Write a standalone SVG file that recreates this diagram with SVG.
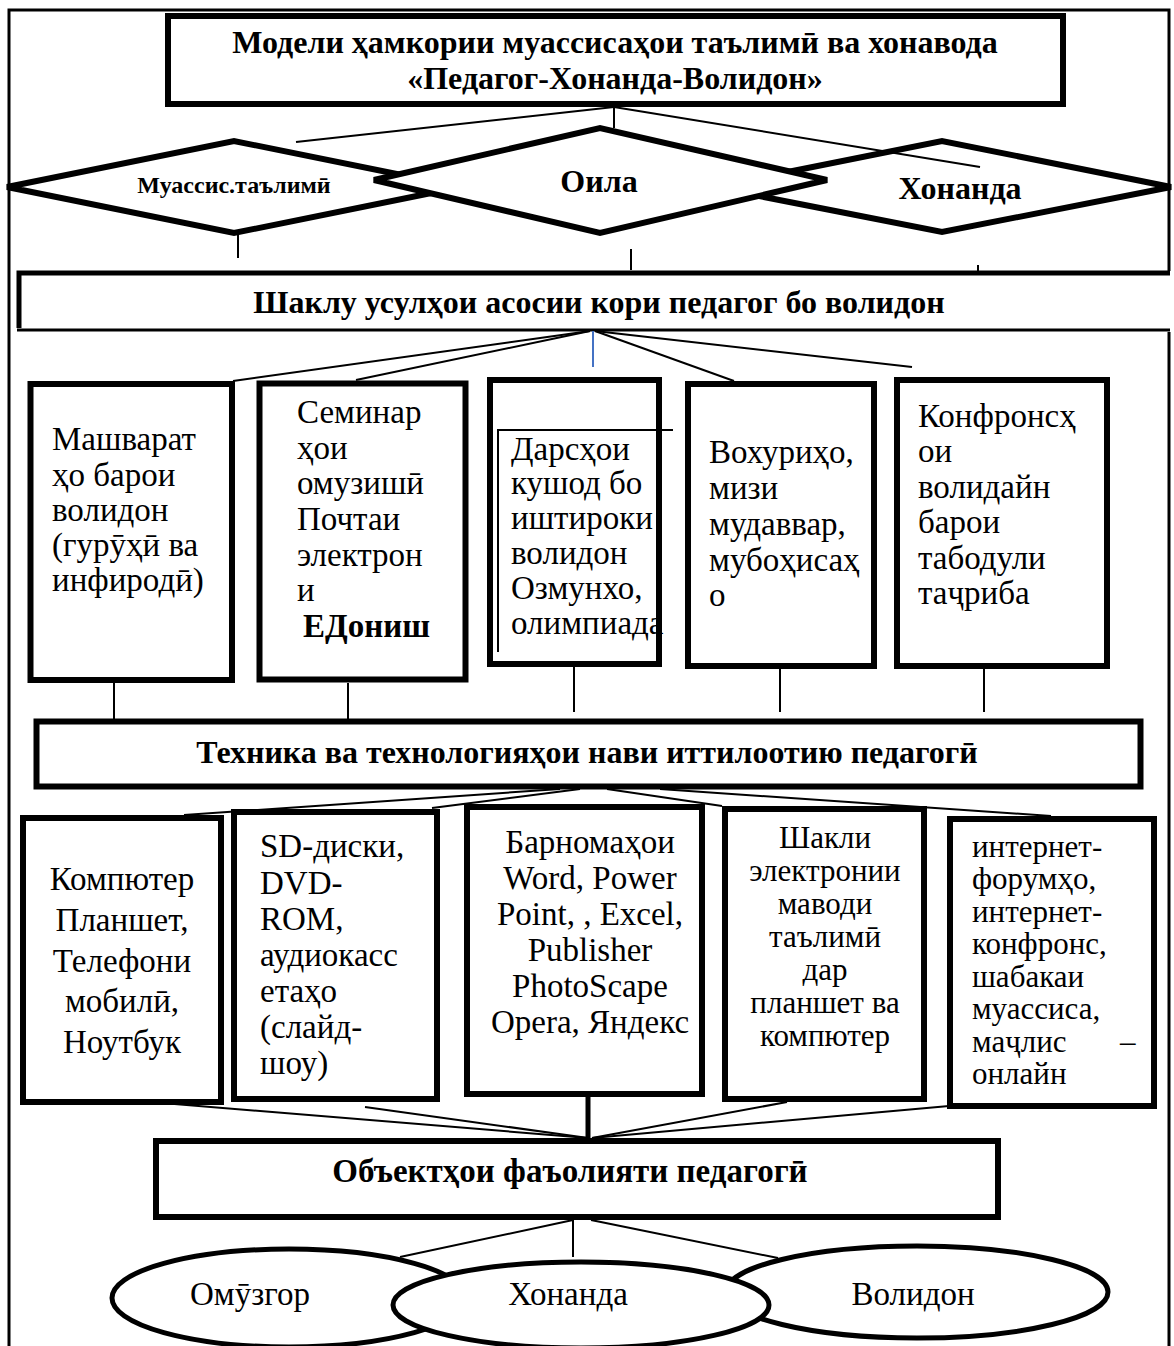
<svg xmlns="http://www.w3.org/2000/svg" width="1174" height="1346" viewBox="0 0 1174 1346">
<style>
  .frame{fill:none;stroke:#000;stroke-width:3}
  .box{fill:#fff;stroke:#000;stroke-width:6}
  .dia{fill:#fff;stroke:#000;stroke-width:6;stroke-linejoin:miter}
  .ell{fill:#fff;stroke:#000;stroke-width:5}
  .ln{fill:none;stroke:#000;stroke-width:2}
  .hb{font-family:"Liberation Serif","Times New Roman",serif;font-weight:bold;font-size:32px;fill:#000}
  .t{font-family:"Liberation Serif","Times New Roman",serif;font-size:33px;fill:#000}
  .ts{font-family:"Liberation Serif","Times New Roman",serif;font-size:31px;fill:#000}
  .c{text-anchor:middle}
</style>
<rect x="0" y="0" width="1174" height="1346" fill="#fff"/>
<path class="frame" d="M9,1346 V10 H1169 V1346"/>

<g id="title">
  <rect class="box" x="168" y="16" width="895" height="88" stroke-width="5"/>
  <text class="hb c" x="615" y="53">Модели ҳамкории муассисаҳои таълимӣ ва хонавода</text>
  <text class="hb c" x="615" y="89">«Педагог-Хонанда-Волидон»</text>
</g>

<g id="diamond-muassis">
  <polygon class="dia" points="7,187 234,141 461,187 234,233"/>
  <text class="hb c" x="234" y="193" style="font-size:24px">Муассис.таълимӣ</text>
</g>
<g id="diamond-khonanda">
  <polygon class="dia" points="713,187 942,141 1171,187 942,232"/>
  <text class="hb c" x="960" y="199">Хонанда</text>
</g>
<g id="diamond-oila">
  <polygon class="dia" points="374,180 600,128 827,180 600,233"/>
  <text class="hb c" x="599" y="192">Оила</text>
</g>

<g id="forms">
  <rect x="17" y="271" width="1154" height="61" fill="#fff"/>
  <path d="M17,330 H1170" stroke="#000" stroke-width="3" fill="none"/>
  <path d="M19,328 V273 H1170" stroke="#000" stroke-width="5" fill="none"/>
  <text class="hb c" x="599" y="313">Шаклу усулҳои асосии кори педагог бо волидон</text>
</g>

<g id="box-mashvarat">
  <rect class="box" x="30.5" y="384" width="201.5" height="296"/>
  <text class="t" x="52" y="450">Машварат</text>
  <text class="t" x="52" y="486">ҳо барои</text>
  <text class="t" x="52" y="521">волидон</text>
  <text class="t" x="52" y="556">(гурӯҳӣ ва</text>
  <text class="t" x="52" y="591">инфиродӣ)</text>
</g>
<g id="box-seminar">
  <rect class="box" x="259.5" y="383.5" width="206" height="296" stroke-width="7"/>
  <text class="t" x="297" y="423">Семинар</text>
  <text class="t" x="297" y="459">ҳои</text>
  <text class="t" x="297" y="494">омузишӣ</text>
  <text class="t" x="297" y="530">Почтаи</text>
  <text class="t" x="297" y="566">электрон</text>
  <text class="t" x="297" y="601">и</text>
  <text class="t" x="303" y="637" font-weight="bold">ЕДониш</text>
</g>
<g id="box-dars">
  <rect class="box" x="490" y="380" width="169" height="284"/>
  <path d="M498,652 V430 H673" fill="none" stroke="#000" stroke-width="2"/>
  <text class="t" x="511" y="460">Дарсҳои</text>
  <text class="t" x="511" y="494">кушод бо</text>
  <text class="t" x="511" y="529">иштироки</text>
  <text class="t" x="511" y="564">волидон</text>
  <text class="t" x="511" y="599">Озмунхо,</text>
  <text class="t" x="511" y="634">олимпиада</text>
</g>
<g id="box-vokhuri">
  <rect class="box" x="688" y="384" width="186" height="282"/>
  <text class="t" x="709" y="463">Вохуриҳо,</text>
  <text class="t" x="709" y="499">мизи</text>
  <text class="t" x="709" y="535">мудаввар,</text>
  <text class="t" x="709" y="571">мубоҳисаҳ</text>
  <text class="t" x="709" y="606">о</text>
</g>
<g id="box-konfrons">
  <rect class="box" x="897" y="380" width="210" height="286"/>
  <text class="t" x="918" y="427">Конфронсҳ</text>
  <text class="t" x="918" y="462">ои</text>
  <text class="t" x="918" y="498">волидайн</text>
  <text class="t" x="918" y="533">барои</text>
  <text class="t" x="918" y="569">табодули</text>
  <text class="t" x="918" y="604">таҷриба</text>
</g>

<g id="technika">
  <rect class="box" x="36.5" y="721.5" width="1104" height="65" stroke-width="5"/>
  <text class="hb c" x="587" y="763">Техника ва технологияҳои нави иттилоотию педагогӣ</text>
</g>

<g id="box-kompyuter">
  <rect class="box" x="23" y="818" width="198" height="284"/>
  <text class="t c" x="122" y="890">Компютер</text>
  <text class="t c" x="122" y="931">Планшет,</text>
  <text class="t c" x="122" y="972">Телефони</text>
  <text class="t c" x="122" y="1012">мобилӣ,</text>
  <text class="t c" x="122" y="1053">Ноутбук</text>
</g>
<g id="box-sd">
  <rect class="box" x="234" y="812" width="203" height="287" stroke-width="8"/>
  <text class="t" x="260" y="857">SD-диски,</text>
  <text class="t" x="260" y="894">DVD-</text>
  <text class="t" x="260" y="930">ROM,</text>
  <text class="t" x="260" y="966">аудиокасс</text>
  <text class="t" x="260" y="1002">етаҳо</text>
  <text class="t" x="260" y="1038">(слайд-</text>
  <text class="t" x="260" y="1074">шоу)</text>
</g>
<g id="box-barnoma">
  <rect class="box" x="467" y="807" width="235" height="287"/>
  <text class="t c" x="590" y="853">Барномаҳои</text>
  <text class="t c" x="590" y="889">Word, Power</text>
  <text class="t c" x="590" y="925">Point, , Excel,</text>
  <text class="t c" x="590" y="961">Publisher</text>
  <text class="t c" x="590" y="997">PhotoScape</text>
  <text class="t c" x="590" y="1033">Opera, Яндекс</text>
</g>
<g id="box-shakli">
  <rect class="box" x="725" y="809" width="199" height="290" stroke-width="8"/>
  <text class="ts c" x="825" y="848">Шакли</text>
  <text class="ts c" x="825" y="881">электронии</text>
  <text class="ts c" x="825" y="914">маводи</text>
  <text class="ts c" x="825" y="947">таълимӣ</text>
  <text class="ts c" x="825" y="980">дар</text>
  <text class="ts c" x="825" y="1013">планшет ва</text>
  <text class="ts c" x="825" y="1046">компютер</text>
</g>
<g id="box-internet">
  <rect class="box" x="950" y="819" width="204" height="287"/>
  <text class="ts" x="972" y="857">интернет-</text>
  <text class="ts" x="972" y="889">форумҳо,</text>
  <text class="ts" x="972" y="922">интернет-</text>
  <text class="ts" x="972" y="954">конфронс,</text>
  <text class="ts" x="972" y="987">шабакаи</text>
  <text class="ts" x="972" y="1019">муассиса,</text>
  <text class="ts" x="972" y="1052">маҷлис</text>
  <text class="ts" x="1120" y="1052">–</text>
  <text class="ts" x="972" y="1084">онлайн</text>
</g>

<g id="objects">
  <rect class="box" x="156" y="1141" width="842" height="76"/>
  <text class="hb c" x="570" y="1182" style="font-size:33px">Объектҳои фаъолияти педагогӣ</text>
</g>

<g id="ellipse-omuzgor">
  <ellipse class="ell" cx="289" cy="1298" rx="177" ry="49"/>
  <text class="t c" x="250" y="1305">Омӯзгор</text>
</g>
<g id="ellipse-volidon">
  <ellipse class="ell" cx="917" cy="1292" rx="191" ry="46"/>
  <text class="t c" x="913" y="1305">Волидон</text>
</g>
<g id="ellipse-khonanda">
  <ellipse class="ell" cx="581" cy="1305" rx="188" ry="43"/>
  <text class="t c" x="568" y="1305">Хонанда</text>
</g>

<g id="connectors">
  <line class="ln" x1="614" y1="107" x2="296" y2="142"/>
  <line class="ln" x1="614" y1="107" x2="614" y2="128"/>
  <line class="ln" x1="614" y1="107" x2="980" y2="167"/>
  <line class="ln" x1="238" y1="234" x2="238" y2="258"/>
  <line class="ln" x1="631" y1="249" x2="631" y2="270"/>
  <line class="ln" x1="978" y1="265" x2="978" y2="272"/>
  <line class="ln" x1="590" y1="331" x2="233" y2="381"/>
  <line class="ln" x1="590" y1="331" x2="356" y2="380"/>
  <line x1="593" y1="331" x2="593" y2="367" stroke="#4472C4" stroke-width="2"/>
  <line class="ln" x1="595" y1="331" x2="734" y2="381"/>
  <line class="ln" x1="595" y1="331" x2="912" y2="367"/>
  <line class="ln" x1="114" y1="683" x2="114" y2="719"/>
  <line class="ln" x1="348" y1="683" x2="348" y2="719"/>
  <line class="ln" x1="574" y1="667" x2="574" y2="712"/>
  <line class="ln" x1="780" y1="669" x2="780" y2="712"/>
  <line class="ln" x1="984" y1="669" x2="984" y2="712"/>
  <line class="ln" x1="560" y1="789" x2="184" y2="815"/>
  <line class="ln" x1="580" y1="789" x2="432" y2="808"/>
  <line class="ln" x1="607" y1="789" x2="722" y2="806"/>
  <line class="ln" x1="660" y1="789" x2="1051" y2="816"/>
  <line class="ln" x1="126" y1="1100" x2="588" y2="1138"/>
  <line class="ln" x1="365" y1="1107" x2="588" y2="1138"/>
  <line x1="588" y1="1097" x2="588" y2="1138" stroke="#000" stroke-width="5"/>
  <line class="ln" x1="787" y1="1102" x2="592" y2="1138"/>
  <line class="ln" x1="949" y1="1106" x2="592" y2="1138"/>
  <line class="ln" x1="573" y1="1220" x2="400" y2="1257"/>
  <line class="ln" x1="573" y1="1220" x2="573" y2="1257"/>
  <line class="ln" x1="591" y1="1220" x2="778" y2="1258"/>
</g>
</svg>
